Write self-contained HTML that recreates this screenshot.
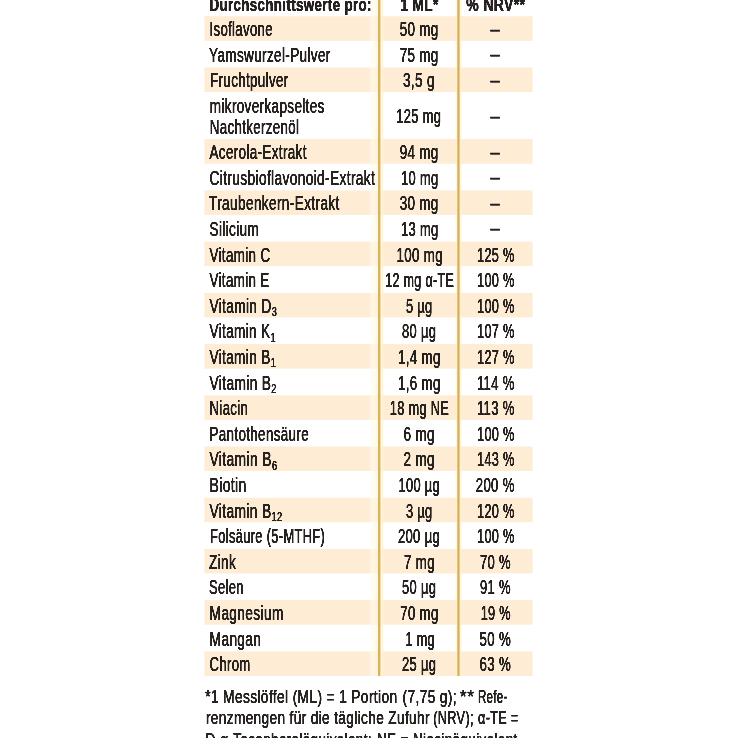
<!DOCTYPE html>
<html lang="de"><head><meta charset="utf-8"><title>Durchschnittswerte pro 1 ML</title>
<style>
html,body{margin:0;padding:0;background:#fff;}
body{width:738px;height:738px;overflow:hidden;}
svg{display:block;font-family:"Liberation Sans",sans-serif;font-size:19.50px;fill:#282321;letter-spacing:0.50px;}
</style></head><body>
<svg width="738" height="738" viewBox="0 0 738 738">
<defs>
<filter id="tw" filterUnits="userSpaceOnUse" x="190" y="-20" width="360" height="790"><feGaussianBlur stdDeviation="0.7 0.3"/><feComponentTransfer><feFuncA type="linear" slope="2.5" intercept="0"/></feComponentTransfer></filter>
<linearGradient id="h1" gradientUnits="userSpaceOnUse" x1="368" y1="0" x2="385" y2="0">
<stop offset="0.06" stop-color="#fffdf5" stop-opacity="0"/>
<stop offset="0.16" stop-color="#fffdf2" stop-opacity="0.45"/>
<stop offset="0.36" stop-color="#fffbe8" stop-opacity="0.6"/>
<stop offset="0.58" stop-color="#fff6d4" stop-opacity="0.7"/>
<stop offset="0.85" stop-color="#fff5cc" stop-opacity="0.8"/>
<stop offset="0.95" stop-color="#fff5cc" stop-opacity="0"/>
</linearGradient>
<linearGradient id="h2" gradientUnits="userSpaceOnUse" x1="454" y1="0" x2="464" y2="0">
<stop offset="0.1" stop-color="#fff3c8" stop-opacity="0"/>
<stop offset="0.3" stop-color="#fff3c8" stop-opacity="0.85"/>
<stop offset="0.62" stop-color="#fff3c8" stop-opacity="0.85"/>
<stop offset="0.85" stop-color="#fff3c8" stop-opacity="0"/>
</linearGradient>
</defs>
<g>
<rect x="204.40" y="16.30" width="328.20" height="24.50" fill="#FEECD5"/>
<rect x="204.40" y="67.52" width="328.20" height="24.50" fill="#FEECD5"/>
<rect x="204.40" y="139.20" width="328.20" height="24.50" fill="#FEECD5"/>
<rect x="204.40" y="190.42" width="328.20" height="24.50" fill="#FEECD5"/>
<rect x="204.40" y="241.64" width="328.20" height="24.50" fill="#FEECD5"/>
<rect x="204.40" y="292.86" width="328.20" height="24.50" fill="#FEECD5"/>
<rect x="204.40" y="344.08" width="328.20" height="24.50" fill="#FEECD5"/>
<rect x="204.40" y="395.30" width="328.20" height="24.50" fill="#FEECD5"/>
<rect x="204.40" y="446.52" width="328.20" height="24.50" fill="#FEECD5"/>
<rect x="204.40" y="497.74" width="328.20" height="24.50" fill="#FEECD5"/>
<rect x="204.40" y="548.96" width="328.20" height="24.50" fill="#FEECD5"/>
<rect x="204.40" y="600.18" width="328.20" height="24.50" fill="#FEECD5"/>
<rect x="204.40" y="651.40" width="328.20" height="24.50" fill="#FEECD5"/>
<rect x="368" y="-5" width="17" height="680.90" fill="url(#h1)"/>
<rect x="454" y="-5" width="10" height="680.90" fill="url(#h2)"/>
<rect x="378.0" y="-5" width="2.35" height="680.90" fill="#D8B060"/>
<rect x="457.3" y="-5" width="2.3" height="680.90" fill="#D6AE5E"/>
</g>
<g filter="url(#tw)">
<text transform="translate(209.50 10.60) scale(0.7174 1)" font-size="18.60" font-weight="700">Durchschnittswerte pro:</text>
<text transform="translate(400.40 10.60) scale(0.7344 1)" font-size="18.60" font-weight="700">1 ML*</text>
<text transform="translate(466.30 10.60) scale(0.7526 1)" font-size="18.60" font-weight="700">% NRV**</text>
<text transform="translate(209.50 36.20) scale(0.6756 1)">Isoflavone</text>
<text transform="translate(399.70 36.20) scale(0.6869 1)">50 mg</text>
<text transform="translate(490.20 35.60) scale(0.8854 1)">–</text>
<text transform="translate(209.00 61.81) scale(0.6957 1)">Yamswurzel-Pulver</text>
<text transform="translate(399.70 61.81) scale(0.6869 1)">75 mg</text>
<text transform="translate(490.20 61.21) scale(0.8854 1)">–</text>
<text transform="translate(210.00 87.42) scale(0.6876 1)">Fruchtpulver</text>
<text transform="translate(402.90 87.42) scale(0.6987 1)">3,5 g</text>
<text transform="translate(490.20 86.82) scale(0.8854 1)">–</text>
<text transform="translate(209.80 112.53) scale(0.6946 1)">mikroverkapseltes</text>
<text transform="translate(209.80 133.93) scale(0.6828 1)">Nachtkerzenöl</text>
<text transform="translate(396.30 123.33) scale(0.6619 1)">125 mg</text>
<text transform="translate(490.20 122.73) scale(0.8854 1)">–</text>
<text transform="translate(209.50 159.10) scale(0.6914 1)">Acerola-Extrakt</text>
<text transform="translate(399.70 159.10) scale(0.6869 1)">94 mg</text>
<text transform="translate(490.20 158.50) scale(0.8854 1)">–</text>
<text transform="translate(209.50 184.71) scale(0.7052 1)">Citrusbioflavonoid-Extrakt</text>
<text transform="translate(401.00 184.71) scale(0.6638 1)">10 mg</text>
<text transform="translate(490.20 184.11) scale(0.8854 1)">–</text>
<text transform="translate(209.00 210.32) scale(0.7010 1)">Traubenkern-Extrakt</text>
<text transform="translate(399.70 210.32) scale(0.6869 1)">30 mg</text>
<text transform="translate(490.20 209.72) scale(0.8854 1)">–</text>
<text transform="translate(209.50 235.93) scale(0.6989 1)">Silicium</text>
<text transform="translate(400.90 235.93) scale(0.6656 1)">13 mg</text>
<text transform="translate(490.20 235.33) scale(0.8854 1)">–</text>
<text transform="translate(209.50 261.54) scale(0.6874 1)">Vitamin C</text>
<text transform="translate(396.40 261.54) scale(0.6871 1)">100 mg</text>
<text transform="translate(477.00 261.54) scale(0.6529 1)">125 %</text>
<text transform="translate(209.50 287.15) scale(0.6866 1)">Vitamin E</text>
<text transform="translate(385.20 287.15) scale(0.6423 1)">12 mg α-TE</text>
<text transform="translate(477.00 287.15) scale(0.6529 1)">100 %</text>
<text transform="translate(209.50 312.76) scale(0.7015 1)">Vitamin D<tspan font-size="13.07" dy="3.50">3</tspan></text>
<text transform="translate(405.90 312.76) scale(0.6577 1)">5 µg</text>
<text transform="translate(477.00 312.76) scale(0.6529 1)">100 %</text>
<text transform="translate(209.50 338.37) scale(0.6968 1)">Vitamin K<tspan font-size="13.07" dy="3.50">1</tspan></text>
<text transform="translate(401.90 338.37) scale(0.6643 1)">80 µg</text>
<text transform="translate(477.00 338.37) scale(0.6529 1)">107 %</text>
<text transform="translate(209.50 363.98) scale(0.6989 1)">Vitamin B<tspan font-size="13.07" dy="3.50">1</tspan></text>
<text transform="translate(397.90 363.98) scale(0.6826 1)">1,4 mg</text>
<text transform="translate(477.00 363.98) scale(0.6529 1)">127 %</text>
<text transform="translate(209.50 389.59) scale(0.7074 1)">Vitamin B<tspan font-size="13.07" dy="3.50">2</tspan></text>
<text transform="translate(397.90 389.59) scale(0.6826 1)">1,6 mg</text>
<text transform="translate(477.00 389.59) scale(0.6698 1)">114 %</text>
<text transform="translate(209.50 415.20) scale(0.6774 1)">Niacin</text>
<text transform="translate(389.70 415.20) scale(0.6552 1)">18 mg NE</text>
<text transform="translate(477.00 415.20) scale(0.6698 1)">113 %</text>
<text transform="translate(209.50 440.81) scale(0.6880 1)">Pantothensäure</text>
<text transform="translate(403.40 440.81) scale(0.6957 1)">6 mg</text>
<text transform="translate(477.00 440.81) scale(0.6529 1)">100 %</text>
<text transform="translate(209.50 466.42) scale(0.7126 1)">Vitamin B<tspan font-size="13.07" dy="3.50">6</tspan></text>
<text transform="translate(403.40 466.42) scale(0.6957 1)">2 mg</text>
<text transform="translate(477.00 466.42) scale(0.6529 1)">143 %</text>
<text transform="translate(209.50 492.03) scale(0.7197 1)">Biotin</text>
<text transform="translate(398.40 492.03) scale(0.6620 1)">100 µg</text>
<text transform="translate(475.80 492.03) scale(0.6739 1)">200 %</text>
<text transform="translate(209.50 517.64) scale(0.7094 1)">Vitamin B<tspan font-size="13.07" dy="3.50">12</tspan></text>
<text transform="translate(405.90 517.64) scale(0.6577 1)">3 µg</text>
<text transform="translate(477.00 517.64) scale(0.6529 1)">120 %</text>
<text transform="translate(210.00 543.25) scale(0.6618 1)">Folsäure (5-MTHF)</text>
<text transform="translate(397.90 543.25) scale(0.6700 1)">200 µg</text>
<text transform="translate(477.00 543.25) scale(0.6529 1)">100 %</text>
<text transform="translate(209.00 568.86) scale(0.7010 1)">Zink</text>
<text transform="translate(403.90 568.86) scale(0.6845 1)">7 mg</text>
<text transform="translate(480.00 568.86) scale(0.6683 1)">70 %</text>
<text transform="translate(209.00 594.47) scale(0.6631 1)">Selen</text>
<text transform="translate(401.90 594.47) scale(0.6643 1)">50 µg</text>
<text transform="translate(480.00 594.47) scale(0.6683 1)">91 %</text>
<text transform="translate(209.60 620.08) scale(0.7042 1)">Magnesium</text>
<text transform="translate(400.20 620.08) scale(0.6781 1)">70 mg</text>
<text transform="translate(480.70 620.08) scale(0.6530 1)">19 %</text>
<text transform="translate(209.60 645.69) scale(0.7044 1)">Mangan</text>
<text transform="translate(405.40 645.69) scale(0.6511 1)">1 mg</text>
<text transform="translate(479.50 645.69) scale(0.6791 1)">50 %</text>
<text transform="translate(209.60 671.30) scale(0.6709 1)">Chrom</text>
<text transform="translate(401.90 671.30) scale(0.6643 1)">25 µg</text>
<text transform="translate(479.50 671.30) scale(0.6791 1)">63 %</text>
<text transform="translate(205.20 703.20) scale(0.7250 1)" font-size="19.00">*1 Messlöffel (ML) = 1 Portion</text>
<text transform="translate(402.60 703.20) scale(0.7224 1)" font-size="19.00">(7,75 g);</text>
<text transform="translate(459.80 703.20) scale(0.9292 1)" font-size="19.00">**</text>
<text transform="translate(478.00 703.20) scale(0.6067 1)" font-size="19.00">Refe-</text>
<text transform="translate(205.90 724.35) scale(0.7195 1)" font-size="19.00">renzmengen für die tägliche Zufuhr</text>
<text transform="translate(433.30 724.35) scale(0.6677 1)" font-size="19.00">(NRV);</text>
<text transform="translate(478.00 724.35) scale(0.6665 1)" font-size="19.00">α-TE =</text>
<text transform="translate(205.40 746.40) scale(0.7092 1)" font-size="19.00">D-α-Tocopheroläquivalent;</text>
<text transform="translate(377.00 746.40) scale(0.7115 1)" font-size="19.00">NE = Niacinäquivalent</text>
</g>
</svg>
</body></html>
